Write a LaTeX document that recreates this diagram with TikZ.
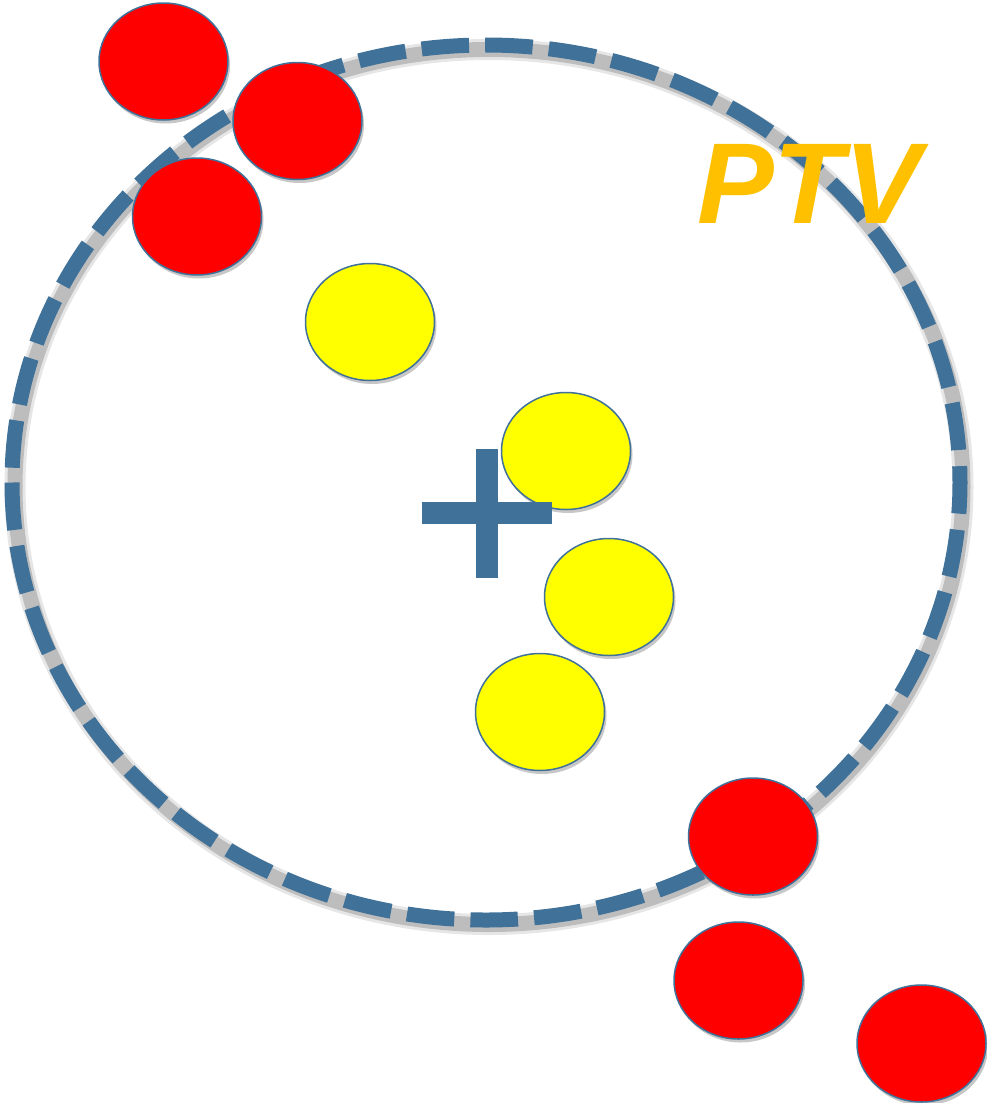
\documentclass[tikz,border=0pt]{standalone}
\usepackage{fontspec}
\setmainfont{Liberation Sans}
\usetikzlibrary{shapes.geometric,shadows}
\definecolor{ringblue}{HTML}{3F7199}
\definecolor{ballred}{HTML}{FF0000}
\definecolor{ballyellow}{HTML}{FFFF00}
\definecolor{ptvorange}{HTML}{FFC000}
\tikzset{
  ball/.style={ellipse, draw=ringblue, line width=1.5pt, minimum width=129pt, minimum height=117pt, inner sep=0pt,
    drop shadow={shadow xshift=2pt, shadow yshift=-3.5pt, opacity=0.22, fill=black}},
  redball/.style={ball, fill=ballred},
  yellowball/.style={ball, fill=ballyellow},
  ringshadow/.style={draw=gray, line width=15pt},
  ring/.style={draw=ringblue, line width=15pt, dash pattern=on 47.5pt off 16.2pt},
  ptvtext/.style={font=\fontsize{115}{115}\selectfont\bfseries\itshape, anchor=base, inner sep=0pt}
}
\begin{document}
\begin{tikzpicture}[x=1pt,y=-1pt]
\useasboundingbox (0,0) rectangle (987,1103);
% shadow of the dashed ring
\draw[ringshadow, opacity=0.2, line width=21pt] (15,487) arc[start angle=180, end angle=-180, x radius=474, y radius=437.5];
\draw[ringshadow, opacity=0.4] (15,487) arc[start angle=180, end angle=-180, x radius=474, y radius=437.5];
% dashed ring
\draw[ring] (12,482.5) arc[start angle=180, end angle=-180, x radius=474, y radius=437.5];
% PTV label
\node[ptvtext, text=ptvorange] (ptv) at (809,223) {PTV};
% yellow balls
\node[yellowball] (y1) at (370,322) {};
\node[yellowball] (y2) at (566,451) {};
\node[yellowball] (y3) at (609,597) {};
\node[yellowball] (y4) at (540,712) {};
% plus marker
\fill[ringblue] (475.7,449) rectangle (498,578);
\fill[ringblue] (421.7,501.7) rectangle (552,524.3);
% red balls
\node[redball] (r1) at (163.5,61.5) {};
\node[redball] (r2) at (297.5,121) {};
\node[redball] (r3) at (197,216.5) {};
\node[redball] (r4) at (753,836.5) {};
\node[redball] (r5) at (738.5,980.5) {};
\node[redball] (r6) at (921.5,1043.5) {};
\end{tikzpicture}
\end{document}
